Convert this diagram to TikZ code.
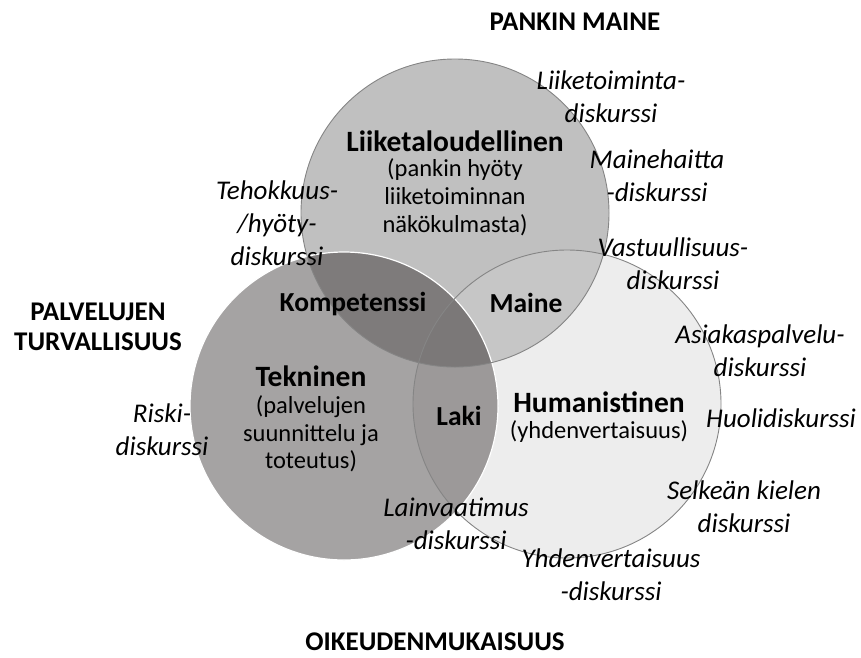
\documentclass[tikz,border=0pt]{standalone}
\usepackage{fontspec}
\setmainfont{Carlito}
\usetikzlibrary{positioning}

\definecolor{ylavari}{HTML}{C0C0C0}
\definecolor{mainevari}{HTML}{C6C6C6}
\definecolor{oikvari}{HTML}{EDEDED}
\definecolor{vasvari}{HTML}{A5A3A3}
\definecolor{lakivari}{HTML}{9C9999}
\definecolor{kompvari}{HTML}{7E7B7B}
\definecolor{keskivari}{HTML}{7B7878}
\definecolor{reuna}{HTML}{858585}

\tikzset{
  otsikko/.style={font=\bfseries\fontsize{27}{30}\selectfont, align=center, inner sep=0pt},
  nimi/.style={font=\bfseries\fontsize{29.5}{33}\selectfont, align=center, inner sep=0pt},
  alue/.style={font=\bfseries\fontsize{27.5}{33}\selectfont, align=center, inner sep=0pt},
  selite/.style={font=\fontsize{24.5}{27.5}\selectfont, align=center, inner sep=0pt},
  diskurssi/.style={font=\itshape\fontsize{27}{33}\selectfont, align=center, inner sep=0pt},
}

\begin{document}
\begin{tikzpicture}[x=1pt,y=-1pt]
        \useasboundingbox (0,0) rectangle (861,657);
        \coordinate (Y) at (455,213);
        \coordinate (V) at (344,406);
        \coordinate (O) at (567,404);
        \def\r{154pt}
        %% circles
        \fill[oikvari] (O) circle (\r);
        \fill[ylavari] (Y) circle (\r);
        \begin{scope}
            \clip (Y) circle (\r);
            \fill[mainevari] (O) circle (\r);
        \end{scope}
        \fill[vasvari] (V) circle (\r);
        \begin{scope}
            \clip (V) circle (\r);
            \fill[kompvari] (Y) circle (\r);
            \fill[lakivari] (O) circle (\r);
            \clip (Y) circle (\r);
            \fill[keskivari] (O) circle (\r);
        \end{scope}
        \draw[white, line width=1.2pt] (V) circle (\r);
        \draw[reuna, line width=0.9pt] (Y) circle (\r);
        \draw[reuna, line width=0.9pt] (O) circle (\r);
        %% headings
        \node[otsikko] (pankki) at (575,22) {PANKIN MAINE};
        \node[otsikko] (palvelu) at (98,327) {PALVELUJEN\\TURVALLISUUS};
        \node[otsikko] (oikeus) at (435,642) {OIKEUDENMUKAISUUS};
        %% circle names
        \node[nimi] (liike) at (455,141) {Liiketaloudellinen};
        \node[selite, below=7pt of liike, font=\fontsize{24.5}{28}\selectfont] (liikeala) {(pankin hyöty\\liiketoiminnan\\näkökulmasta)};
        \node[nimi] (tekn) at (311,376) {Tekninen};
        \node[selite, below=9pt of tekn] (teknala) {(palvelujen\\suunnittelu ja\\toteutus)};
        \node[nimi] (human) at (599,402) {Humanistinen};
        \node[selite, below=8pt of human] (humanala) {(yhdenvertaisuus)};
        %% overlaps
        \node[alue] (komp) at (353,304) {Kompetenssi};
        \node[alue] (maine) at (526,303) {Maine};
        \node[alue] (laki) at (459,416) {Laki};
        %% discourses
        \node[diskurssi] (liiked) at (611,97) {Liiketoiminta-\\diskurssi};
        \node[diskurssi] (maineh) at (657,176) {Mainehaitta\\-diskurssi};
        \node[diskurssi] (tehok) at (277,223) {Tehokkuus-\\/hyöty-\\diskurssi};
        \node[diskurssi] (vastuu) at (673,264) {Vastuullisuus-\\diskurssi};
        \node[diskurssi] (asiakas) at (760,351) {Asiakaspalvelu-\\diskurssi};
        \node[diskurssi] (huoli) at (781,418) {Huolidiskurssi};
        \node[diskurssi] (selkea) at (744,507) {Selkeän kielen\\diskurssi};
        \node[diskurssi] (riski) at (162,430) {Riski-\\diskurssi};
        \node[diskurssi] (lainv) at (456,524) {Lainvaatimus\\-diskurssi};
        \node[diskurssi] (yhden) at (611,575) {Yhdenvertaisuus\\-diskurssi};
\end{tikzpicture}
\end{document}
